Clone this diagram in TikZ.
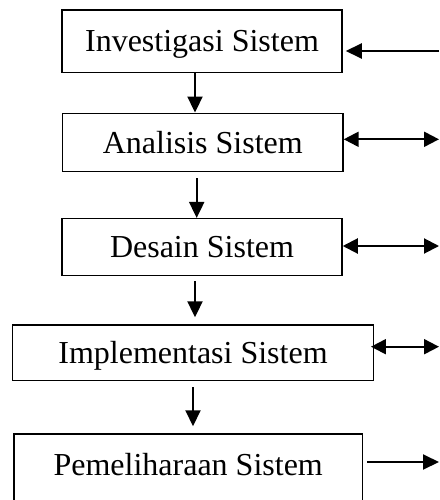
\documentclass[tikz,border=0pt]{standalone}
\usepackage{fontspec}
\setmainfont{Liberation Serif}
\usetikzlibrary{arrows.meta}
\begin{document}
\begin{tikzpicture}[x=1pt,y=-1pt,
    stage/.style={draw,line width=1.5pt,inner sep=0pt,text height=21pt,text depth=0pt,
        font=\fontsize{32}{38}\selectfont},
    flow/.style={line width=2pt,-{Triangle[length=16pt 0,width=15pt 0]}},
    link/.style={line width=2pt,{Triangle[length=15pt 0,width=15pt 0]}-{Triangle[length=15pt 0,width=15pt 0]}}]
    \useasboundingbox (0,0) rectangle (439,500);

    \node[stage,minimum width=280pt,minimum height=62.7pt] (inv) at (202,41.3) {Investigasi Sistem};
    \node[stage,minimum width=280.3pt,minimum height=58.4pt] (ana) at (202.8,142.5) {Analisis Sistem};
    \node[stage,minimum width=280pt,minimum height=56.6pt] (des) at (202,247) {Desain Sistem};
    \node[stage,minimum width=361.4pt,minimum height=55.5pt] (imp) at (193,352.8) {Implementasi Sistem};
    \node[stage,minimum width=348.3pt,text height=41pt,text depth=35pt] (pem) at (188.2,472) {Pemeliharaan Sistem};

    \coordinate (r1) at (439,51);
    \coordinate (r2) at (439,139.3);
    \coordinate (r3) at (439,246);
    \coordinate (r4) at (439,346.7);
    \coordinate (r5) at (439,462);

    \draw[flow] (inv.south -| 195,0) -- (ana.north -| 195,0);
    \draw[flow,shorten <=6pt] (ana.south -| 196.7,0) -- (des.north -| 196.7,0);
    \draw[flow,shorten <=5pt,shorten >=7pt] (des.south -| 195,0) -- (imp.north -| 195,0);
    \draw[flow,shorten <=6pt,shorten >=7pt] (imp.south -| 193,0) -- (pem.north -| 193,0);

    \draw[flow,shorten >=3pt] (r1) -- (r1 -| inv.east);
    \draw[link] (r2 -| ana.east) -- (r2);
    \draw[link] (r3 -| des.east) -- (r3);
    \draw[link,shorten <=-3.5pt] (r4 -| imp.east) -- (r4);
    \draw[flow,shorten <=4pt] (r5 -| pem.east) -- (r5);
\end{tikzpicture}
\end{document}
